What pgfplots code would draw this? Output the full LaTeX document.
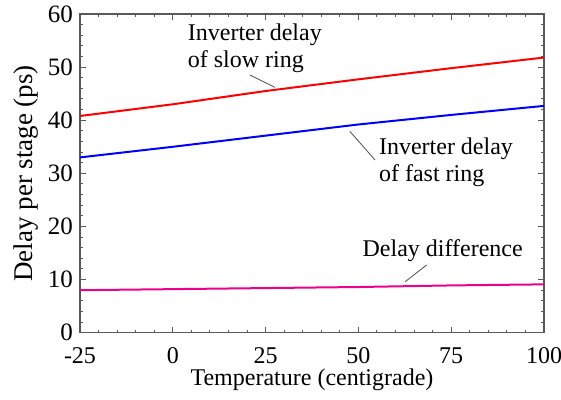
\documentclass[border=0pt]{standalone}
\usepackage{fontspec}
\setmainfont{Liberation Serif}
\usepackage{pgfplots}
\pgfplotsset{compat=1.18}

\newcommand{\lbl}{\fontsize{12}{13.5}\selectfont}

\begin{document}
\begin{tikzpicture}
\useasboundingbox (-40pt,-33.65pt) rectangle (240.5pt,166.35pt);
\begin{axis}[
    scale only axis,
    width=232pt,
    height=159.35pt,
    xmin=-25, xmax=100,
    ymin=0, ymax=60,
    xtick={-25,0,25,50,75,100},
    ytick={0,10,20,30,40,50,60},
    xticklabel={\textrm{\pgfmathprintnumber[assume math mode=true]{\tick}}},
    yticklabel={\textrm{\pgfmathprintnumber[assume math mode=true]{\tick}}},
    minor x tick num=4,
    minor y tick num=4,
    tick align=inside,
    major tick length=3pt,
    minor tick length=1.5pt,
    axis line style={black!65, line width=0.6pt},
    every tick/.style={black!65, line width=0.5pt},
    x tick label style={font=\rmfamily\lbl, yshift=-4pt},
    y tick label style={font=\rmfamily\fontsize{12.5}{14}\selectfont, xshift=0pt},
    xlabel={Temperature (centigrade)},
    ylabel={Delay per stage (ps)},
    xlabel style={font=\lbl, yshift=4.5pt},
    ylabel style={font=\fontsize{13.5}{15}\selectfont, yshift=-2pt},
    clip=false,
]
\addplot[red, line width=1pt] coordinates {
    (-25,40.8) (0,43.0) (25,45.5) (50,47.7) (75,49.8) (100,51.8)
};
\addplot[blue, line width=1pt] coordinates {
    (-25,33.0) (0,35.0) (25,37.1) (50,39.2) (75,41.0) (100,42.7)
};
\addplot[magenta, line width=1pt] coordinates {
    (-25,8.0) (0,8.2) (25,8.4) (50,8.6) (75,8.9) (100,9.1)
};

\node[font=\lbl, align=left, inner sep=0pt] at (axis cs:22.1,53.6) {Inverter delay\\of slow ring};
\draw[black!70, line width=0.4pt] (axis cs:20.8,48.5) -- (axis cs:27.5,46.2);

\node[font=\lbl, align=left, inner sep=0pt] at (axis cs:73.6,32.1) {Inverter delay\\of fast ring};
\draw[black!70, line width=0.4pt] (axis cs:47.7,37.9) -- (axis cs:54.5,32.5);

\node[font=\lbl, inner sep=0pt] at (axis cs:72.7,15.4) {Delay difference};
\draw[black!70, line width=0.4pt] (axis cs:62.6,9.6) -- (axis cs:68.4,12.75);
\end{axis}
\end{tikzpicture}
\end{document}
